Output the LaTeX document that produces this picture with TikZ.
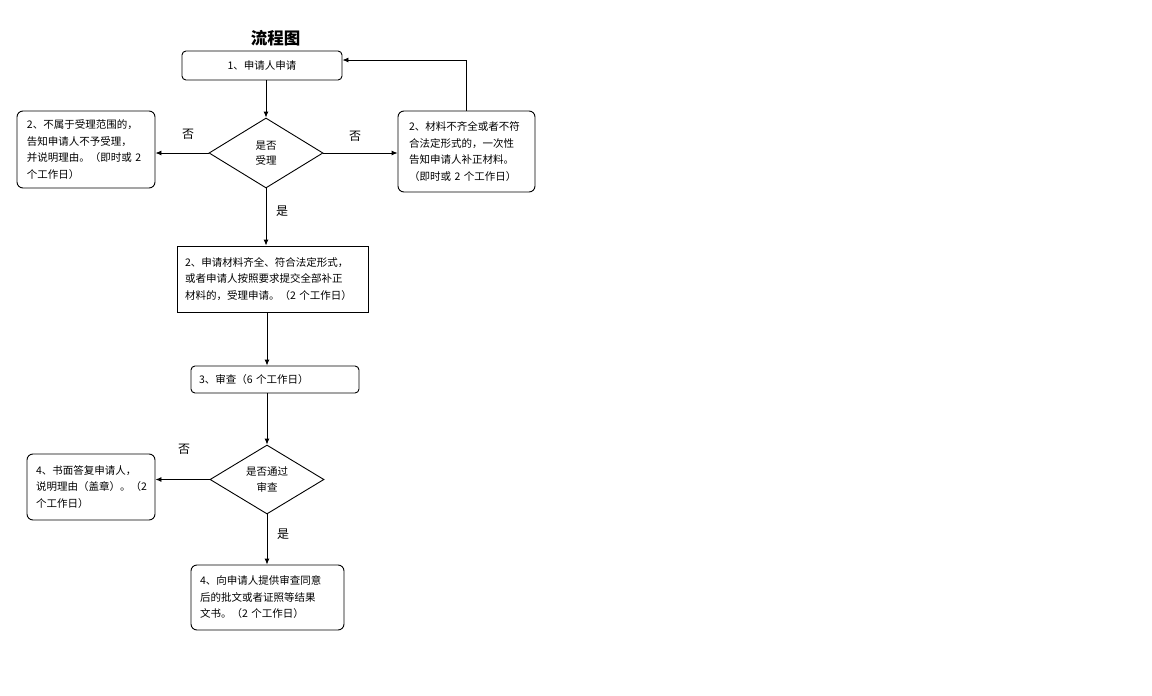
\documentclass[tikz,border=0pt]{standalone}
\usepackage{fontspec}
\setmainfont{Noto Sans CJK SC}
\usetikzlibrary{shapes.geometric,arrows.meta}
\begin{document}
\begin{tikzpicture}[x=1pt,y=-1pt,
  every node/.style={font=\fontsize{10.5}{16.5}\selectfont},
  rbox/.style={draw, line width=0.9pt, rounded corners=6pt, align=left, inner ysep=0pt},
  sbox/.style={draw, line width=0.9pt, align=left, inner ysep=0pt},
  dia/.style={draw, line width=0.9pt, diamond, aspect=1.63, inner sep=0pt, align=center,
    font=\fontsize{10.5}{15.5}\selectfont},
  lbl/.style={font=\fontsize{12}{14}\selectfont, inner sep=0pt},
  arr/.style={line width=0.9pt, -{Latex[length=6pt,width=5pt]}},
  ln/.style={line width=0.9pt}]
\useasboundingbox (0,0) rectangle (1152,696);
\fill[white] (0,0) rectangle (1152,696);

\node[font=\fontsize{16.5}{18}\selectfont\bfseries, inner sep=0pt] (title) at (275.5,38) {流程图};

\node[rbox, rounded corners=4pt, align=center, minimum width=160pt, minimum height=29pt] (box1) at (262,65.5) {1、申请人申请};

\node[dia, minimum width=114pt, minimum height=70pt] (d1) at (266,153) {是否\\受理};

\node[rbox, minimum width=138pt, minimum height=77pt, text width=118pt, inner xsep=10pt] (boxL) at (86,149.5)
  {2、不属于受理范围的，\\告知申请人不予受理，\\并说明理由。（即时或~2\\个工作日）};

\node[rbox, minimum width=137pt, minimum height=81pt, text width=115pt, inner xsep=11pt] (boxR) at (466.5,151.5)
  {2、材料不齐全或者不符\\合法定形式的，一次性\\告知申请人补正材料。\\（即时或~2~个工作日）};

\node[sbox, minimum width=191pt, minimum height=66pt, text width=175pt, inner xsep=8pt] (box2) at (272.5,279)
  {2、申请材料齐全、符合法定形式，\\或者申请人按照要求提交全部补正\\材料的，受理申请。（2~个工作日）};

\node[rbox, rounded corners=4pt, minimum width=168pt, minimum height=27pt, text width=152pt, inner xsep=8pt] (box3) at (275,379.5)
  {3、审查（6~个工作日）};

\node[dia, minimum width=114pt, minimum height=69pt] (d2) at (267,479.5) {是否通过\\审查};

\node[rbox, minimum width=128pt, minimum height=66pt, text width=110pt, inner xsep=9pt] (box4a) at (91,487)
  {4、书面答复申请人，\\说明理由（盖章）。（2\\个工作日）};

\node[rbox, minimum width=153pt, minimum height=65pt, text width=135pt, inner xsep=9pt] (box4b) at (267.5,597.5)
  {4、向申请人提供审查同意\\后的批文或者证照等结果\\文书。（2~个工作日）};

\node[lbl] (n1) at (188,134) {否};
\node[lbl] (n2) at (355,136) {否};
\node[lbl] (n3) at (184,449) {否};
\node[lbl] (y1) at (282,211) {是};
\node[lbl] (y2) at (283,534) {是};

\coordinate (fb) at (466.5,60);

\draw[arr] (d1.north |- box1.south) -- (d1.north);
\draw[arr] (d1.west) -- (d1.west -| boxL.east);
\draw[arr] (d1.east) -- (d1.east -| boxR.west);
\draw[arr] (boxR.north) -- (fb) -- (fb -| box1.east);
\draw[arr] (d1.south) -- (d1.south |- box2.north);
\draw[arr] (d2.north |- box2.south) -- (d2.north |- box3.north);
\draw[arr] (d2.north |- box3.south) -- (d2.north);
\draw[arr] (d2.west) -- (d2.west -| box4a.east);
\draw[arr] (d2.south) -- (d2.south |- box4b.north);
\end{tikzpicture}
\end{document}
